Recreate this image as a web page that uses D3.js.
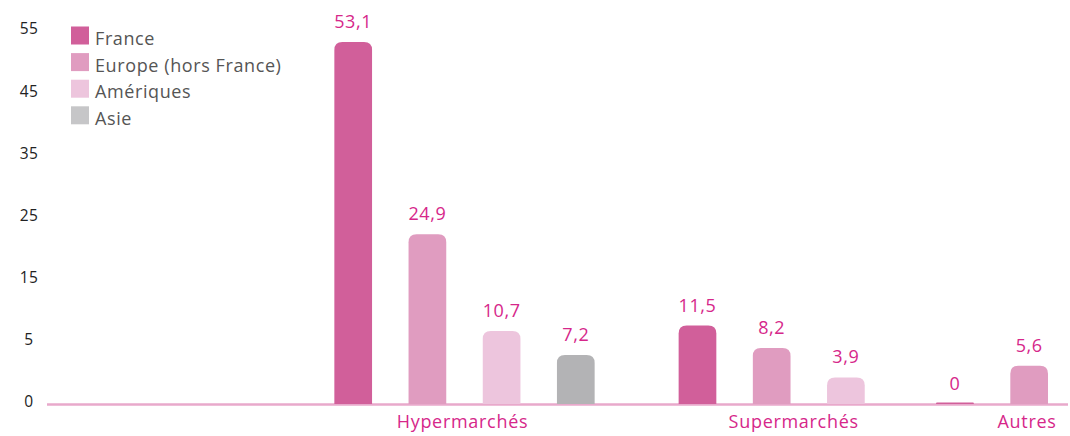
<!DOCTYPE html>
<html>
<head>
<meta charset="utf-8">
<script src="https://cdn.jsdelivr.net/npm/d3@7"></script>
<style>
  html, body { margin: 0; padding: 0; background: #fff; }
  svg { display: block; font-family: "Open Sans", "Noto Sans", sans-serif; }
</style>
</head>
<body>
<svg id="chart" width="1070" height="436"></svg>
<script>
// Chart data: sales split by store format and region
const formats = ["Hypermarchés", "Supermarchés", "Autres"];
const regions = ["France", "Europe (hors France)", "Amériques", "Asie"];
const hyperValues = [53.1, 24.9, 10.7, 7.2];
const superValues = [11.5, 8.2, 3.9];
const autresValues = [0, 5.6];
const yTickLabels = ["0", "5", "15", "25", "35", "45", "55"];

const regionColors = ["#d15f9a", "#e09cc0", "#edc5dd", "#b3b3b5"];
const legendSwatch = ["#d15f9a", "#e09cc0", "#edc5dd", "#c6c6c8"];

const groups = [hyperValues, superValues, autresValues];

const svg = d3.select("#chart");
const baseY = 404;

// Value scale
const y = d3.scaleLinear().domain([0, 55]).range([baseY, baseY - 55 * 6.817]);

// Slot layout: bars one slot apart, extra gap between store formats
const groupGap = [0, 0.64, 0.47];
const bars = [];
let slot = 0;
groups.forEach((vals, gi) => {
  slot += groupGap[gi];
  vals.forEach((v, ri) => {
    bars.push({ group: gi, region: ri, value: v, slot: slot });
    slot += 1;
  });
});
const lastSlot = bars[bars.length - 1].slot;
const x = d3.scaleLinear().domain([0, lastSlot]).range([353.2, 353.2 + lastSlot * 74.2]);
const barW = 37.7;

// Y tick labels, evenly spaced between 0 and 55
const yTicks = d3.scalePoint().domain(yTickLabels).range([y(0) - 2, y(55)]);
svg.append("g").selectAll("text")
  .data(yTickLabels)
  .join("text")
  .attr("x", 29)
  .attr("y", d => yTicks(d))
  .attr("dy", "0.35em")
  .attr("text-anchor", "middle")
  .attr("font-size", 15.5)
  .attr("letter-spacing", 0.5)
  .attr("fill", "#222")
  .text(d => d);

// Bars with rounded tops
const r = 8;
function barPath(d) {
  const cx = x(d.slot), x0 = cx - barW / 2, x1 = cx + barW / 2;
  const top = Math.min(y(d.value), baseY - 1.5);
  const h = baseY - top;
  const rr = Math.min(r, h / 2);
  return `M${x0},${baseY} L${x0},${top + rr} Q${x0},${top} ${x0 + rr},${top} ` +
         `L${x1 - rr},${top} Q${x1},${top} ${x1},${top + rr} L${x1},${baseY} Z`;
}

// Baseline
svg.append("line")
  .attr("x1", 47).attr("x2", 1068)
  .attr("y1", baseY + 0.5).attr("y2", baseY + 0.5)
  .attr("stroke", "#e8a9cb").attr("stroke-width", 2.5);

svg.append("g").selectAll("path")
  .data(bars)
  .join("path")
  .attr("d", barPath)
  .attr("fill", d => regionColors[d.region]);

// Value labels
svg.append("g").selectAll("text")
  .data(bars)
  .join("text")
  .attr("x", d => x(d.slot))
  .attr("y", d => y(d.value) - 14)
  .attr("text-anchor", "middle")
  .attr("font-size", 18)
  .attr("letter-spacing", 0.6)
  .attr("fill", "#d6278a")
  .text(d => d3.format(".1f")(d.value).replace(".", ",").replace(/,0$/, ""));

// Store format labels
const labelShift = [-2, 22, 35];
svg.append("g").selectAll("text")
  .data(formats)
  .join("text")
  .attr("x", (d, i) => {
    const s = bars.filter(b => b.group === i).map(b => x(b.slot));
    return (d3.min(s) + d3.max(s)) / 2 + labelShift[i];
  })
  .attr("y", 428)
  .attr("text-anchor", "middle")
  .attr("font-size", 18)
  .attr("letter-spacing", 0.7)
  .attr("fill", "#d6278a")
  .text(d => d);

// Legend
const legend = svg.append("g").selectAll("g")
  .data(regions)
  .join("g")
  .attr("transform", (d, i) => `translate(71, ${26.5 + i * 26.6})`);
legend.append("rect")
  .attr("width", 18).attr("height", 18)
  .attr("fill", (d, i) => legendSwatch[i]);
legend.append("text")
  .attr("x", 24).attr("y", 18.5)
  .attr("font-size", 18)
  .attr("letter-spacing", 0.6)
  .attr("fill", "#555")
  .text(d => d);
</script>
</body>
</html>
